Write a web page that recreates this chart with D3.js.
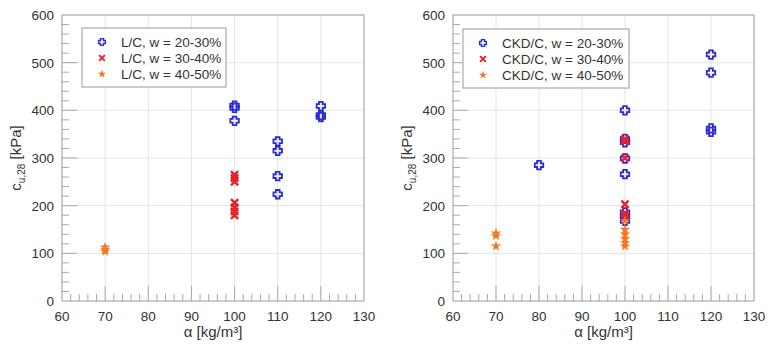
<!DOCTYPE html>
<html><head><meta charset="utf-8">
<script src="https://cdn.jsdelivr.net/npm/d3@7/dist/d3.min.js"></script>
<style>body{margin:0;background:#fff;}svg{display:block;font-family:"Liberation Sans",Arial,sans-serif;}</style>
</head><body><svg id="c" width="768" height="351"></svg>
<script>
const xTicks = [60,70,80,90,100,110,120,130];
const yTicks = [0,100,200,300,400,500,600];

// Left panel: L/C
const lcBlue = [[100,410],[100,405],[100,378],[110,335],[110,315],[110,262],[110,224],[120,409],[120,390],[120,386]];
const lcRed = [[100,265],[100,258],[100,250],[100,206],[100,196],[100,188],[100,180]];
const lcOrange = [[70,113],[70,108],[70,104]];
const lcLabels = ["L/C, w = 20-30%","L/C, w = 30-40%","L/C, w = 40-50%"];

// Right panel: CKD/C
const ckdBlue = [[80,285],[100,400],[100,340],[100,333],[100,299],[100,266],[100,186],[100,178],[100,168],[120,517],[120,479],[120,362],[120,355]];
const ckdRed = [[100,340],[100,335],[100,300],[100,203],[100,184],[100,177]];
const ckdOrange = [[70,142],[70,137],[70,115],[100,168],[100,150],[100,140],[100,130],[100,122],[100,115]];
const ckdLabels = ["CKD/C, w = 20-30%","CKD/C, w = 30-40%","CKD/C, w = 40-50%"];

const svg = d3.select("#c");
const BLUE="#2b2bd9", RED="#e8202a", ORANGE="#f07a22";

function plusPath(s){const a=s*0.22,b=s*0.5;return `M${-a},${-b}H${a}V${-a}H${b}V${a}H${a}V${b}H${-a}V${a}H${-b}V${-a}H${-a}Z`;}
function drawMark(g,type,x,y){
  if(type==="blue"){
    g.append("path").attr("d",plusPath(8.5)).attr("transform",`translate(${x},${y})`).attr("fill","none").attr("stroke",BLUE).attr("stroke-width",1.8);
  } else if(type==="red"){
    const s=3.6;
    g.append("path").attr("d",`M${-s},${-s}L${s},${s}M${-s},${s}L${s},${-s}`).attr("transform",`translate(${x},${y})`).attr("stroke",RED).attr("stroke-width",2.4).attr("fill","none");
  } else {
    g.append("path").attr("d",d3.symbol(d3.symbolStar,34)()).attr("transform",`translate(${x},${y})`).attr("fill",ORANGE);
  }
}

function panel(x0,x1,blue,red,orange,labels,legBox){
  const y0=301,y1=15;
  const x=d3.scaleLinear().domain([60,130]).range([x0,x1]);
  const y=d3.scaleLinear().domain([0,600]).range([y0,y1]);
  const g=svg.append("g");
  // grid
  g.selectAll(".gx").data(xTicks.slice(1,-1)).join("line").attr("x1",d=>x(d)).attr("x2",d=>x(d)).attr("y1",y0).attr("y2",y1).attr("stroke","#e4e4e4");
  g.selectAll(".gy").data(yTicks.slice(1,-1)).join("line").attr("y1",d=>y(d)).attr("y2",d=>y(d)).attr("x1",x0).attr("x2",x1).attr("stroke","#e4e4e4");
  // minor ticks
  const xm=d3.range(62,130,2).filter(v=>v%10!==0);
  g.selectAll(".mx").data(xm).join("line").attr("x1",d=>x(d)).attr("x2",d=>x(d)).attr("y1",y0).attr("y2",y0-7).attr("stroke","#aaa");
  g.selectAll(".Mx").data(xTicks.slice(1,-1)).join("line").attr("x1",d=>x(d)).attr("x2",d=>x(d)).attr("y1",y0).attr("y2",y0-15).attr("stroke","#aaa");
  const ym=d3.range(20,600,20).filter(v=>v%100!==0);
  g.selectAll(".my").data(ym).join("line").attr("y1",d=>y(d)).attr("y2",d=>y(d)).attr("x1",x0).attr("x2",x0+7).attr("stroke","#aaa");
  g.selectAll(".My").data(yTicks.slice(1,-1)).join("line").attr("y1",d=>y(d)).attr("y2",d=>y(d)).attr("x1",x0).attr("x2",x0+15).attr("stroke","#aaa");
  // frame
  g.append("rect").attr("x",x0).attr("y",y1).attr("width",x1-x0).attr("height",y0-y1).attr("fill","none").attr("stroke","#999");
  // tick labels
  g.selectAll(".tx").data(xTicks).join("text").attr("x",d=>x(d)).attr("y",y0+20).attr("text-anchor","middle").attr("font-size",13.5).attr("fill","#333").text(d=>d);
  g.selectAll(".ty").data(yTicks).join("text").attr("x",x0-8).attr("y",d=>y(d)+5).attr("text-anchor","end").attr("font-size",13.5).attr("fill","#333").text(d=>d);
  // axis titles
  g.append("text").attr("x",(x0+x1)/2).attr("y",337).attr("text-anchor","middle").attr("font-size",15).attr("fill","#333").text("α [kg/m³]");
  const yt=g.append("text").attr("transform",`translate(${x0-41},${(y0+y1)/2}) rotate(-90)`).attr("text-anchor","middle").attr("font-size",15).attr("fill","#333");
  yt.append("tspan").text("c");
  yt.append("tspan").attr("font-size",10).attr("dy",4).text("u,28");
  yt.append("tspan").attr("dy",-4).text(" [kPa]");
  // marks
  blue.forEach(d=>drawMark(g,"blue",x(d[0]),y(d[1])));
  red.forEach(d=>drawMark(g,"red",x(d[0]),y(d[1])));
  orange.forEach(d=>drawMark(g,"orange",x(d[0]),y(d[1])));
  // legend
  const L=g.append("g");
  L.append("rect").attr("x",legBox[0]).attr("y",legBox[1]).attr("width",legBox[2]).attr("height",legBox[3]).attr("fill","#fff").attr("stroke","#999");
  ["blue","red","orange"].forEach((t,i)=>{
    const yy=legBox[1]+14+i*16;
    L.append("g").attr("transform",`translate(${legBox[0]+20},${yy}) scale(0.8)`).call(s=>drawMark(s,t,0,0));
    L.append("text").attr("x",legBox[0]+39).attr("y",yy+5).attr("font-size",13.5).attr("fill","#333").text(labels[i]);
  });
}
panel(62,364,lcBlue,lcRed,lcOrange,lcLabels,[82,28,144,59]);
panel(453,754,ckdBlue,ckdRed,ckdOrange,ckdLabels,[463,29,166,59]);
</script></body></html>
